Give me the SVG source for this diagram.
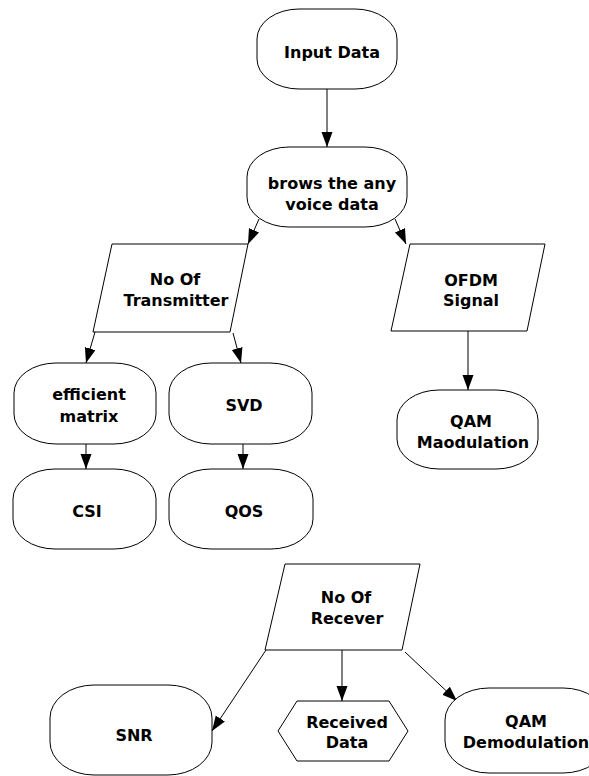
<svg xmlns="http://www.w3.org/2000/svg" width="589" height="776" viewBox="0 0 589 776">
<defs>
<marker id="arr" markerUnits="userSpaceOnUse" markerWidth="16" markerHeight="12" refX="15" refY="5.5" orient="auto">
<path d="M0,0 L15,5.5 L0,11 z" fill="#000"/>
</marker>
<style>
.s{fill:#fff;stroke:#000;stroke-width:1}
.t{font-family:"DejaVu Sans","Verdana",sans-serif;font-weight:bold;font-size:16px;fill:#000;text-anchor:middle}
.c{stroke:#000;stroke-width:1;fill:none;marker-end:url(#arr)}
</style>
</defs>
<rect width="589" height="776" fill="#fff"/>
<g id="connectors">
<line class="c" x1="327" y1="89" x2="327" y2="147"/>
<line class="c" x1="259" y1="219" x2="248" y2="244"/>
<line class="c" x1="395" y1="219" x2="406" y2="244"/>
<line class="c" x1="95" y1="332" x2="86" y2="363"/>
<line class="c" x1="233" y1="333" x2="241" y2="363"/>
<line class="c" x1="86" y1="444" x2="86" y2="469"/>
<line class="c" x1="243" y1="444" x2="243" y2="469"/>
<line class="c" x1="468" y1="331" x2="468" y2="390"/>
<line class="c" x1="266" y1="650" x2="212" y2="731"/>
<line class="c" x1="342" y1="650" x2="342" y2="701"/>
<line class="c" x1="405" y1="652" x2="457" y2="701"/>
</g>
<g id="input-data">
<rect class="s" x="257" y="9" width="140" height="80" rx="42" ry="30"/>
<text class="t" x="332" y="58">Input Data</text>
</g>
<g id="brows">
<rect class="s" x="247" y="147" width="160" height="80" rx="42" ry="30"/>
<text class="t" x="332" y="189">brows the any</text>
<text class="t" x="332" y="210">voice data</text>
</g>
<g id="transmitter">
<polygon class="s" points="112,244 248,244 230,332 93,332"/>
<text class="t" x="175" y="285">No Of</text>
<text class="t" x="176" y="306">Transmitter</text>
</g>
<g id="ofdm">
<polygon class="s" points="410,244 545,244 527,331 391,331"/>
<text class="t" x="471" y="286">OFDM</text>
<text class="t" x="471" y="306">Signal</text>
</g>
<g id="qam-mod">
<rect class="s" x="397" y="390" width="141" height="79" rx="42" ry="30"/>
<text class="t" x="471" y="427">QAM</text>
<text class="t" x="473" y="448">Maodulation</text>
</g>
<g id="efficient">
<rect class="s" x="14" y="363" width="142" height="81" rx="42" ry="30"/>
<text class="t" x="89" y="400">efficient</text>
<text class="t" x="89" y="422">matrix</text>
</g>
<g id="svd">
<rect class="s" x="169" y="363" width="143" height="81" rx="42" ry="30"/>
<text class="t" x="244" y="411">SVD</text>
</g>
<g id="csi">
<rect class="s" x="13" y="469" width="143" height="80" rx="42" ry="30"/>
<text class="t" x="87" y="517">CSI</text>
</g>
<g id="qos">
<rect class="s" x="169" y="469" width="144" height="80" rx="42" ry="30"/>
<text class="t" x="244" y="517">QOS</text>
</g>
<g id="recever">
<polygon class="s" points="285,564 420,564 402,650 265,650"/>
<text class="t" x="346" y="603">No Of</text>
<text class="t" x="347" y="624">Recever</text>
</g>
<g id="snr">
<rect class="s" x="50" y="685" width="162" height="90" rx="44" ry="33"/>
<text class="t" x="134" y="741">SNR</text>
</g>
<g id="received">
<polygon class="s" points="278,731 297,701 389,701 408,731 389,761 297,761"/>
<text class="t" x="347" y="728">Received</text>
<text class="t" x="347" y="748">Data</text>
</g>
<g id="qam-demod">
<rect class="s" x="445" y="688" width="162" height="85" rx="44" ry="32"/>
<text class="t" x="526" y="727">QAM</text>
<text class="t" x="526" y="748">Demodulation</text>
</g>
</svg>
